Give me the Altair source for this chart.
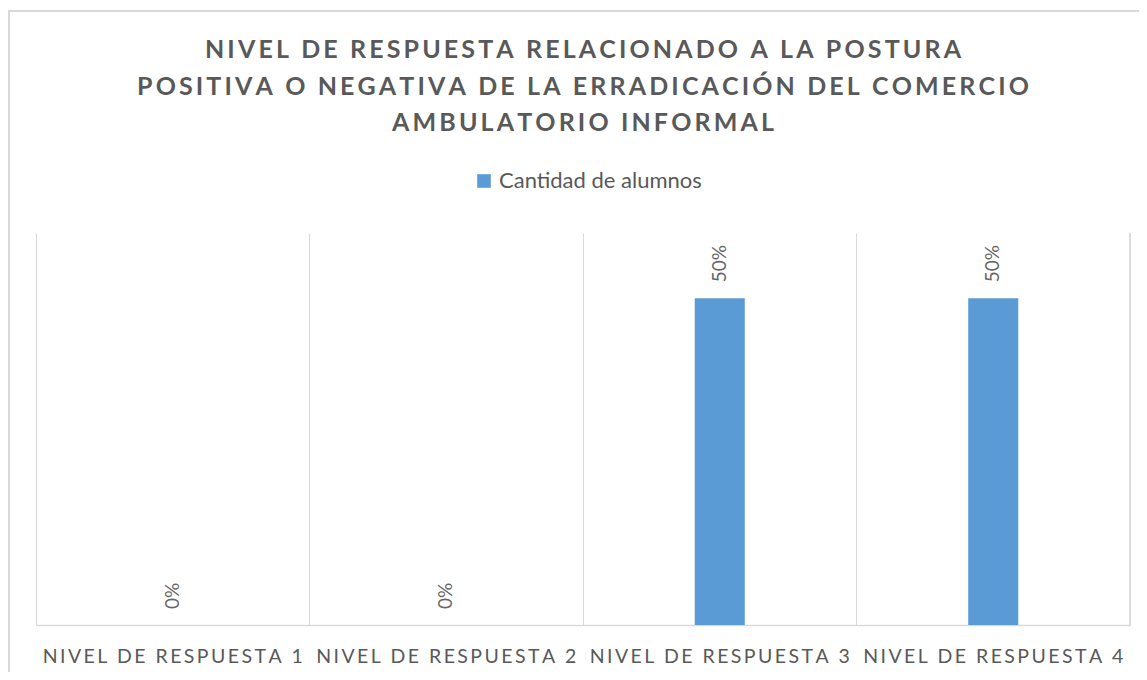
import altair as alt
import pandas as pd

categorias = ["NIVEL DE RESPUESTA 1", "NIVEL DE RESPUESTA 2", "NIVEL DE RESPUESTA 3", "NIVEL DE RESPUESTA 4"]
cantidad = [0.0, 0.0, 0.5, 0.5]
serie = "Cantidad de alumnos"
titulo = [
    "NIVEL DE RESPUESTA RELACIONADO A LA POSTURA",
    "POSITIVA O NEGATIVA DE LA ERRADICACIÓN DEL COMERCIO",
    "AMBULATORIO INFORMAL",
]

SP = "\u2009"
titulo_esp = [SP.join(list(t)) for t in titulo]

df = pd.DataFrame({"categoria": categorias, "valor": cantidad, "serie": [serie] * len(categorias)})

FONT = "Lato"
GRAY = "#595959"
BLUE = "#5B9BD5"
GRID = "#D9D9D9"

x_enc = alt.X(
    "categoria:N",
    sort=categorias,
    scale=alt.Scale(paddingInner=0, paddingOuter=0),
    axis=alt.Axis(
        title=None,
        labelAngle=0,
        labelFont=FONT,
        labelFontSize=19.5,
        labelColor=GRAY,
        labelPadding=22,
        labelLimit=0,
        labelExpr="join(split(datum.label, ''), '\u2009')",
        ticks=False,
        grid=True,
        gridColor=GRID,
        gridWidth=1,
        bandPosition=0,
        domainColor=GRID,
        domainWidth=1.5,
    ),
)
y_enc = alt.Y("valor:Q", scale=alt.Scale(domain=[0, 0.6], nice=False), axis=None)

bars = alt.Chart(df).mark_bar(width=alt.RelativeBandSize(0.183), color=BLUE).encode(
    x=x_enc,
    y=y_enc,
    color=alt.Color(
        "serie:N",
        scale=alt.Scale(range=[BLUE]),
        legend=alt.Legend(
            title=None,
            orient="none",
            legendX=437,
            legendY=-63,
            symbolType="square",
            symbolSize=185,
            symbolStrokeWidth=0,
            labelFont=FONT,
            labelFontSize=22,
            labelColor=GRAY,
            labelOffset=4,
            labelLimit=0,
        ),
    ),
)

labels = alt.Chart(df).mark_text(
    angle=270, align="left", baseline="middle", dx=16, font=FONT, fontSize=19, color="#666666"
).encode(
    x=alt.X("categoria:N", sort=categorias),
    y=alt.Y("valor:Q"),
    text=alt.Text("valor:Q", format=".0%"),
)

right_edge = alt.Chart(df).mark_rule(color=GRID, strokeWidth=1).encode(
    x=alt.value(1094), y=alt.value(0), y2=alt.value(392)
)

frame = alt.Chart(df).mark_rect(fill=None, stroke=GRID, strokeWidth=1.5).encode(
    x=alt.value(-27), x2=alt.value(1200), y=alt.value(-222), y2=alt.value(700)
)

chart = (
    alt.layer(frame, bars, labels, right_edge)
    .properties(
        width=1094,
        height=392,
        padding={"left": 28, "top": 225, "right": 9, "bottom": 47},
        autosize=alt.AutoSizeParams(type="none"),
        title=alt.TitleParams(
            text=titulo_esp,
            font=FONT,
            fontSize=25,
            fontWeight="bold",
            color=GRAY,
            lineHeight=36.5,
            anchor="middle",
            frame="group",
            baseline="bottom",
            offset=-151,
        ),
    )
    .configure_view(stroke=None)
)

chart.save("out.html", embed_options={"renderer": "svg", "actions": False})
